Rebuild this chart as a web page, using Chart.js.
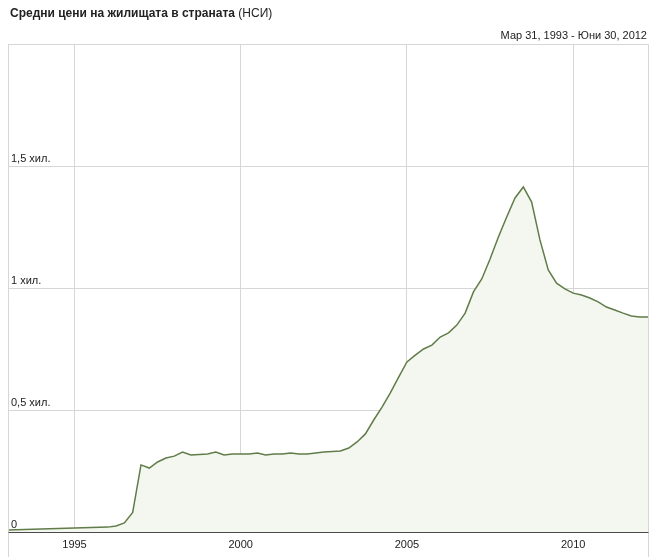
<!DOCTYPE html>
<html>
<head>
<meta charset="utf-8">
<script src="https://cdn.jsdelivr.net/npm/chart.js@4.4.1/dist/chart.umd.min.js"></script>
<style>
  html, body { margin: 0; padding: 0; background: #fff; }
  #wrap { position: relative; width: 661px; height: 557px; overflow: hidden; font-family: "Liberation Sans", Arial, sans-serif; }
  #c { position: absolute; left: 0; top: 0; }
  #title { position: absolute; left: 10px; top: 6px; font-size: 12px; color: #222; white-space: nowrap; }
  #title b { font-weight: bold; }
  #range { position: absolute; right: 14px; top: 29px; font-size: 11px; color: #222; white-space: nowrap; }
</style>
</head>
<body>
<div id="wrap">
  <canvas id="c" width="661" height="557"></canvas>
  <div id="title"><b>Средни цени на жилищата в страната</b> (НСИ)</div>
  <div id="range">Мар 31, 1993 - Юни 30, 2012</div>
</div>
<script>
// Quarterly average housing prices, first point = Q1 1993, last = Q2 2012
const startYear = 1993;
const prices = [
  8, 9, 10, 11, 12, 13, 14, 15, 16, 17, 18, 19, 20, 25, 37, 80,
  275, 262, 287, 303, 311, 328, 316, 318, 320, 328,
  316, 320, 320, 320, 324, 316, 320, 320, 324, 320,
  320, 324, 328, 330, 332, 344, 369, 402, 459,
  512, 570, 635, 697, 725, 750, 766, 799, 816, 848,
  897, 984, 1037, 1119, 1209, 1291, 1369, 1414, 1352, 1197,
  1074, 1020, 996, 979, 971, 959, 943, 922, 910, 897,
  885, 881, 881
];
const xTickYears = [1995, 2000, 2005, 2010];
const yTickValues = [0, 500, 1000, 1500, 2000];
const yTickLabels = ['0', '0,5 хил.', '1 хил.', '1,5 хил.', ''];

const points = prices.map((v, i) => ({ x: startYear + i / 4, y: v }));
const xMax = startYear + (prices.length - 1) / 4;

const framePlugin = {
  id: 'frame',
  afterDraw(chart) {
    const { ctx, chartArea } = chart;
    ctx.save();
    ctx.strokeStyle = '#d6d6d6';
    ctx.lineWidth = 1;
    ctx.beginPath();
    const l = Math.round(chartArea.left) + 0.5;
    const r = Math.round(chartArea.right) + 0.5;
    const t = Math.round(chartArea.top) + 0.5;
    ctx.moveTo(l, t); ctx.lineTo(l, chart.height);
    ctx.moveTo(r, t); ctx.lineTo(r, chart.height);
    ctx.moveTo(l, t); ctx.lineTo(r, t);
    ctx.stroke();
    ctx.strokeStyle = '#4a4a4a';
    ctx.beginPath();
    const b = Math.round(chartArea.bottom) + 0.5;
    ctx.moveTo(l, b); ctx.lineTo(r, b);
    ctx.stroke();
    ctx.restore();
  }
};

new Chart(document.getElementById('c'), {
  type: 'line',
  data: {
    datasets: [{
      data: points,
      borderColor: '#607c48',
      borderWidth: 1.5,
      backgroundColor: '#f4f7ef',
      fill: 'origin',
      pointRadius: 0,
      tension: 0
    }]
  },
  options: {
    responsive: false,
    animation: false,
    devicePixelRatio: 1,
    layout: { padding: { left: 8, right: 13, top: 44, bottom: 0 } },
    plugins: { legend: { display: false }, tooltip: { enabled: false }, title: { display: false } },
    scales: {
      x: {
        type: 'linear',
        min: startYear,
        max: xMax,
        afterBuildTicks(scale) { scale.ticks = xTickYears.map(v => ({ value: v })); },
        afterFit(scale) { scale.height = 25; },
        ticks: {
          callback: (v) => String(v),
          font: { family: '"Liberation Sans", Arial, sans-serif', size: 11 },
          color: '#222',
          padding: 6,
          maxRotation: 0,
          autoSkip: false
        },
        grid: { color: '#d6d6d6', lineWidth: 1, drawTicks: false },
        border: { display: true, color: '#4a4a4a', width: 1 }
      },
      y: {
        min: 0,
        max: 2000,
        afterBuildTicks(scale) { scale.ticks = yTickValues.map(v => ({ value: v })); },
        afterFit(scale) { scale.width = 0; },
        ticks: {
          mirror: true,
          padding: 3,
          labelOffset: -7,
          callback: (v) => yTickLabels[yTickValues.indexOf(v)],
          font: { family: '"Liberation Sans", Arial, sans-serif', size: 11 },
          color: '#222'
        },
        grid: { color: '#d6d6d6', lineWidth: 1, drawTicks: false },
        border: { display: false }
      }
    }
  },
  plugins: [framePlugin]
});
</script>
</body>
</html>
